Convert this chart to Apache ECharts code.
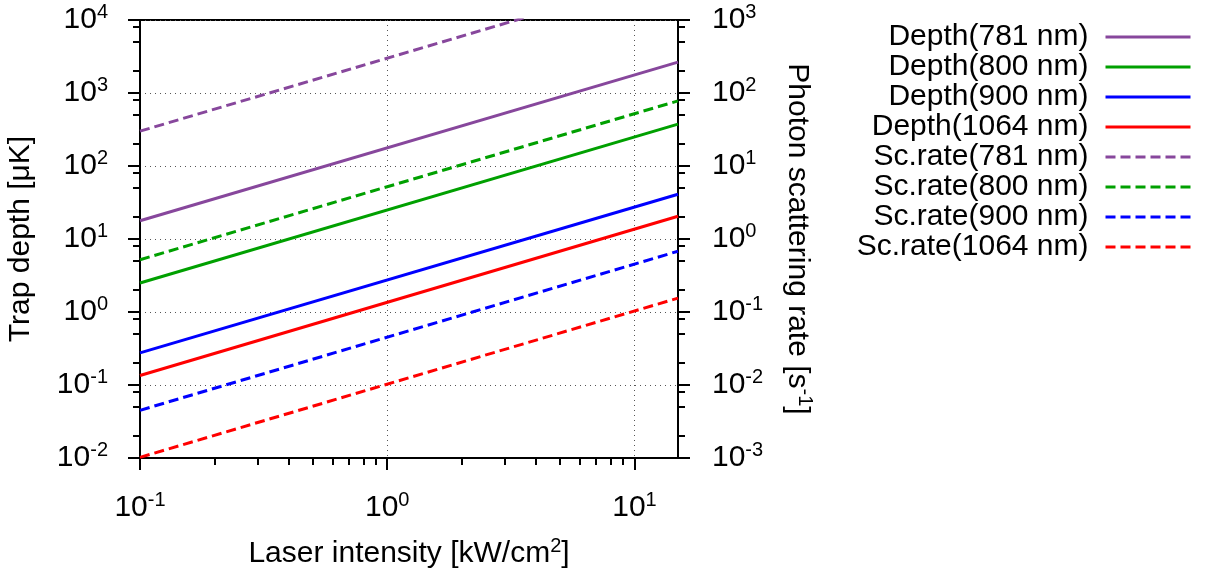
<!DOCTYPE html>
<html>
<head>
<meta charset="utf-8">
<script src="https://cdn.jsdelivr.net/npm/echarts@6/dist/echarts.min.js"></script>
<style>
  html, body { margin: 0; padding: 0; background: #fff; }
  #chart { width: 1207px; height: 572px; }
</style>
</head>
<body>
<div id="chart"></div>
<script>
// laser intensity [kW/cm2], line end points
const intensity = [0.1, 15]

// trap depth [uK]
const depth781 = [17.8, 2650]
const depth800 = [2.5, 375]
const depth900 = [0.275, 41]
const depth1064 = [0.135, 20.5]

// photon scattering rate [1/s]
const rate781 = [30, 4500]
const rate800 = [0.52, 78]
const rate900 = [0.0045, 0.68]
const rate1064 = [0.00102, 0.155]

// ticks
const xMajor = [0.1, 1, 10]
const xMinor = [0.2, 0.3, 0.4, 0.5, 0.6, 0.7, 0.8, 0.9, 2, 3, 4, 5, 6, 7, 8, 9]
const yLeftMajor = [0.01, 0.1, 1, 10, 100, 1000, 10000]
const yLeftMinor = [0.02, 0.05, 0.08, 0.2, 0.5, 0.8, 2, 5, 8, 20, 50, 80, 200, 500, 800, 2000, 5000, 8000]
const yRightMajor = [0.001, 0.01, 0.1, 1, 10, 100, 1000]
const yRightMinor = [0.002, 0.005, 0.008, 0.02, 0.05, 0.08, 0.2, 0.5, 0.8, 2, 5, 8, 20, 50, 80, 200, 500, 800]

const FONT = "'Liberation Sans', Arial, sans-serif"
const purple = '#87479c'
const green = '#00a000'
const blue = '#0000ff'
const red = '#ff0000'

function pow10(v) {
  return '{b|10}{sup|' + Math.round(Math.log10(v)) + '}'
}

const rich = {
  b: { fontSize: 30, fontFamily: FONT, color: '#000' },
  sup: { fontSize: 20, fontFamily: FONT, color: '#000', padding: [0, 0, 15, 0] }
}

function majorAxis(pos, min, max, ticks, extra) {
  return Object.assign({
    type: 'log',
    logBase: 10,
    position: pos,
    min: min,
    max: max,
    axisLine: { show: true, lineStyle: { color: '#000', width: 2 } },
    axisTick: { show: true, length: 12, customValues: ticks, lineStyle: { color: '#000', width: 2 } },
    axisLabel: { show: true, customValues: ticks, formatter: pow10, rich: rich },
    minorTick: { show: false },
    splitLine: { show: false }
  }, extra)
}

function minorAxis(pos, min, max, ticks) {
  return {
    type: 'log',
    logBase: 10,
    position: pos,
    min: min,
    max: max,
    axisLine: { show: false },
    axisTick: { show: true, length: 7, customValues: ticks, lineStyle: { color: '#000', width: 2 } },
    axisLabel: { show: false },
    splitLine: { show: false }
  }
}

function pairs(ys) {
  return intensity.map((x, i) => [x, ys[i]])
}

function line(name, ys, color, yIdx, dashed) {
  return {
    name: name,
    type: 'line',
    xAxisIndex: 0,
    yAxisIndex: yIdx,
    data: pairs(ys),
    symbol: 'none',
    silent: true,
    animation: false,
    lineStyle: { color: color, width: 3, type: dashed ? [10, 5] : 'solid' },
    itemStyle: { color: color }
  }
}

const dotted = { show: true, lineStyle: { color: '#555', width: 1, type: [1, 4] } }
const nameStyle = { fontSize: 30, fontFamily: FONT, color: '#000', rich: rich }

var chart = echarts.init(document.getElementById('chart'))
var option = {
  backgroundColor: '#fff',
  animation: false,
  textStyle: { fontFamily: FONT },
  grid: {
    left: 140, right: 529, top: 20, bottom: 114,
    containLabel: false,
    outerBoundsMode: 'none',
    show: true, borderColor: '#000', borderWidth: 2, backgroundColor: 'transparent'
  },
  legend: {
    orient: 'vertical',
    right: 10,
    top: 17,
    align: 'right',
    itemWidth: 85,
    itemHeight: 28,
    itemGap: 0,
    selectedMode: false,
    itemStyle: { opacity: 0 },
    lineStyle: { width: 3 },
    textStyle: { fontSize: 30, fontFamily: FONT, color: '#000', lineHeight: 28, padding: [0, 12, 0, 0] }
  },
  xAxis: [
    majorAxis('bottom', 0.1, 15, xMajor, {
      axisLabel: { show: true, customValues: xMajor, formatter: pow10, rich: rich, margin: 32 },
      splitLine: dotted,
      name: 'Laser intensity [kW/cm{sup|2}]',
      nameLocation: 'middle',
      nameGap: 78,
      nameTextStyle: nameStyle
    }),
    minorAxis('bottom', 0.1, 15, xMinor)
  ],
  yAxis: [
    majorAxis('left', 0.01, 10000, yLeftMajor, {
      axisLabel: { show: true, customValues: yLeftMajor, formatter: pow10, rich: rich, margin: 32 },
      splitLine: dotted,
      name: 'Trap depth [μK]',
      nameLocation: 'middle',
      nameGap: 104,
      nameRotate: 90,
      nameTextStyle: nameStyle
    }),
    minorAxis('left', 0.01, 10000, yLeftMinor),
    majorAxis('right', 0.001, 1000, yRightMajor, {
      axisLabel: { show: true, customValues: yRightMajor, formatter: pow10, rich: rich, margin: 34 },
      name: 'Photon scattering rate [s{sup|-1}]',
      nameLocation: 'middle',
      nameGap: 102,
      nameRotate: -90,
      nameTextStyle: nameStyle
    }),
    minorAxis('right', 0.001, 1000, yRightMinor)
  ],
  series: [
    line('Depth(781 nm)', depth781, purple, 0, false),
    line('Depth(800 nm)', depth800, green, 0, false),
    line('Depth(900 nm)', depth900, blue, 0, false),
    line('Depth(1064 nm)', depth1064, red, 0, false),
    line('Sc.rate(781 nm)', rate781, purple, 2, true),
    line('Sc.rate(800 nm)', rate800, green, 2, true),
    line('Sc.rate(900 nm)', rate900, blue, 2, true),
    line('Sc.rate(1064 nm)', rate1064, red, 2, true)
  ]
}
chart.setOption(option)
</script>
</body>
</html>
